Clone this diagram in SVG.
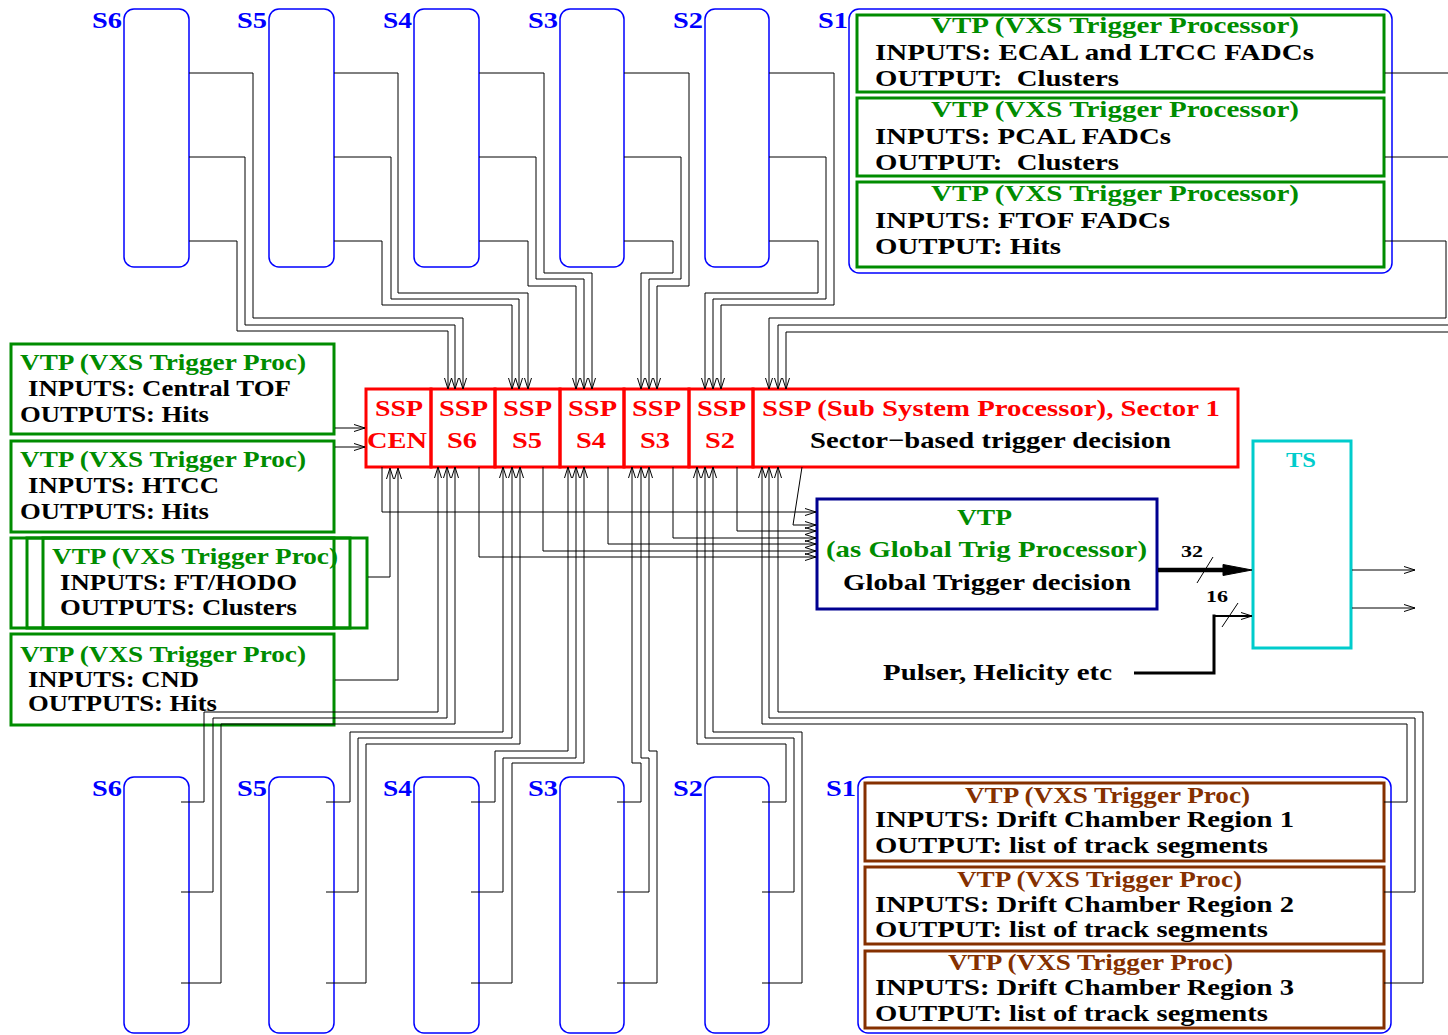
<svg xmlns="http://www.w3.org/2000/svg" width="1448" height="1035" viewBox="0 0 1448 1035">
<style>
text{font-family:"Liberation Serif","Times New Roman",serif;font-weight:bold;}
.lbl{fill:#0000ff;font-size:24px}
.g{fill:#008c00;font-size:23px}
.k{fill:#000;font-size:23px}
.r{fill:#ff0000;font-size:24px}
.br{fill:#853000;font-size:23px}
.tall{fill:none;stroke:#0000ff;stroke-width:1.5}
.gbox{fill:none;stroke:#008c00;stroke-width:3}
.bbox{fill:none;stroke:#853000;stroke-width:3}
.rbox{fill:none;stroke:#ff0000;stroke-width:3}
.c path{fill:none;stroke:#000;stroke-width:1}
.c .thick{stroke-width:4.5}
.c .mid{stroke-width:3}
.c .two{stroke-width:1.8}
.c .head{fill:#000;stroke:#000;stroke-width:1}
</style>
<defs>
<marker id="a" markerWidth="12" markerHeight="8" refX="11" refY="4" orient="auto" markerUnits="userSpaceOnUse">
<path d="M0,0.5 L11,4 L0,7.5" fill="none" stroke="#000" stroke-width="1"/>
</marker>
</defs>

<!-- top tall boxes -->
<g id="top-S6"><rect class="tall" x="124" y="9" width="65" height="258" rx="10"/><text class="lbl" x="92" y="28" textLength="30" lengthAdjust="spacingAndGlyphs">S6</text></g>
<g id="top-S5"><rect class="tall" x="269" y="9" width="65" height="258" rx="10"/><text class="lbl" x="237" y="28" textLength="30" lengthAdjust="spacingAndGlyphs">S5</text></g>
<g id="top-S4"><rect class="tall" x="414" y="9" width="65" height="258" rx="10"/><text class="lbl" x="383" y="28" textLength="29" lengthAdjust="spacingAndGlyphs">S4</text></g>
<g id="top-S3"><rect class="tall" x="560" y="9" width="64" height="258" rx="10"/><text class="lbl" x="528" y="28" textLength="30" lengthAdjust="spacingAndGlyphs">S3</text></g>
<g id="top-S2"><rect class="tall" x="705" y="9" width="64" height="258" rx="10"/><text class="lbl" x="673" y="28" textLength="30" lengthAdjust="spacingAndGlyphs">S2</text></g>
<g id="top-S1">
<rect class="tall" x="849" y="9" width="543" height="264" rx="10"/>
<text class="lbl" x="818" y="28" textLength="30" lengthAdjust="spacingAndGlyphs">S1</text>
<rect class="gbox" x="857" y="15" width="527" height="77"/>
<text class="g" x="931" y="33" textLength="368" lengthAdjust="spacingAndGlyphs">VTP (VXS Trigger Processor)</text>
<text class="k" x="875" y="60" textLength="439" lengthAdjust="spacingAndGlyphs">INPUTS: ECAL and LTCC FADCs</text>
<text class="k" x="875" y="86" textLength="244" lengthAdjust="spacingAndGlyphs" xml:space="preserve">OUTPUT:  Clusters</text>
<rect class="gbox" x="857" y="98" width="527" height="78"/>
<text class="g" x="931" y="117" textLength="368" lengthAdjust="spacingAndGlyphs">VTP (VXS Trigger Processor)</text>
<text class="k" x="875" y="144" textLength="296" lengthAdjust="spacingAndGlyphs">INPUTS: PCAL FADCs</text>
<text class="k" x="875" y="170" textLength="244" lengthAdjust="spacingAndGlyphs" xml:space="preserve">OUTPUT:  Clusters</text>
<rect class="gbox" x="857" y="182" width="527" height="85"/>
<text class="g" x="931" y="201" textLength="368" lengthAdjust="spacingAndGlyphs">VTP (VXS Trigger Processor)</text>
<text class="k" x="875" y="228" textLength="295" lengthAdjust="spacingAndGlyphs">INPUTS: FTOF FADCs</text>
<text class="k" x="875" y="254" textLength="186" lengthAdjust="spacingAndGlyphs">OUTPUT: Hits</text>
</g>

<!-- SSP row -->
<g id="ssp-cen"><rect class="rbox" x="366" y="389" width="65" height="78"/><text class="r" x="375" y="416" textLength="48" lengthAdjust="spacingAndGlyphs">SSP</text><text class="r" x="367" y="448" textLength="60" lengthAdjust="spacingAndGlyphs">CEN</text></g>
<g id="ssp-s6"><rect class="rbox" x="431" y="389" width="64" height="78"/><text class="r" x="439" y="416" textLength="49" lengthAdjust="spacingAndGlyphs">SSP</text><text class="r" x="447" y="448" textLength="30" lengthAdjust="spacingAndGlyphs">S6</text></g>
<g id="ssp-s5"><rect class="rbox" x="495" y="389" width="65" height="78"/><text class="r" x="503" y="416" textLength="49" lengthAdjust="spacingAndGlyphs">SSP</text><text class="r" x="512" y="448" textLength="30" lengthAdjust="spacingAndGlyphs">S5</text></g>
<g id="ssp-s4"><rect class="rbox" x="560" y="389" width="64" height="78"/><text class="r" x="568" y="416" textLength="49" lengthAdjust="spacingAndGlyphs">SSP</text><text class="r" x="576" y="448" textLength="30" lengthAdjust="spacingAndGlyphs">S4</text></g>
<g id="ssp-s3"><rect class="rbox" x="624" y="389" width="65" height="78"/><text class="r" x="632" y="416" textLength="49" lengthAdjust="spacingAndGlyphs">SSP</text><text class="r" x="640" y="448" textLength="30" lengthAdjust="spacingAndGlyphs">S3</text></g>
<g id="ssp-s2"><rect class="rbox" x="689" y="389" width="64" height="78"/><text class="r" x="697" y="416" textLength="49" lengthAdjust="spacingAndGlyphs">SSP</text><text class="r" x="705" y="448" textLength="30" lengthAdjust="spacingAndGlyphs">S2</text></g>
<g id="ssp-s1"><rect class="rbox" x="753" y="389" width="485" height="78"/><text class="r" x="762" y="416" textLength="458" lengthAdjust="spacingAndGlyphs">SSP (Sub System Processor), Sector 1</text><text class="k" x="810" y="448" font-size="24" textLength="361" lengthAdjust="spacingAndGlyphs">Sector−based trigger decision</text></g>

<!-- left VTP boxes -->
<g id="vtp-ctof"><rect class="gbox" x="11" y="344" width="323" height="90"/>
<text class="g" x="20" y="370" textLength="286" lengthAdjust="spacingAndGlyphs">VTP (VXS Trigger Proc)</text>
<text class="k" x="28" y="396" textLength="263" lengthAdjust="spacingAndGlyphs">INPUTS: Central TOF</text>
<text class="k" x="20" y="422" textLength="189" lengthAdjust="spacingAndGlyphs">OUTPUTS: Hits</text></g>
<g id="vtp-htcc"><rect class="gbox" x="11" y="441" width="323" height="91"/>
<text class="g" x="20" y="467" textLength="286" lengthAdjust="spacingAndGlyphs">VTP (VXS Trigger Proc)</text>
<text class="k" x="28" y="493" textLength="191" lengthAdjust="spacingAndGlyphs">INPUTS: HTCC</text>
<text class="k" x="20" y="519" textLength="189" lengthAdjust="spacingAndGlyphs">OUTPUTS: Hits</text></g>
<g id="vtp-ft"><rect class="gbox" x="11" y="538" width="323" height="90"/><rect class="gbox" x="27" y="538" width="323" height="90"/><rect class="gbox" x="43" y="538" width="324" height="90"/>
<text class="g" x="52" y="564" textLength="286" lengthAdjust="spacingAndGlyphs">VTP (VXS Trigger Proc)</text>
<text class="k" x="60" y="590" textLength="237" lengthAdjust="spacingAndGlyphs">INPUTS: FT/HODO</text>
<text class="k" x="60" y="615" textLength="237" lengthAdjust="spacingAndGlyphs">OUTPUTS: Clusters</text></g>
<g id="vtp-cnd"><rect class="gbox" x="11" y="634" width="323" height="91"/>
<text class="g" x="20" y="662" textLength="286" lengthAdjust="spacingAndGlyphs">VTP (VXS Trigger Proc)</text>
<text class="k" x="28" y="687" textLength="171" lengthAdjust="spacingAndGlyphs">INPUTS: CND</text>
<text class="k" x="28" y="711" textLength="189" lengthAdjust="spacingAndGlyphs">OUTPUTS: Hits</text></g>

<!-- global VTP -->
<g id="vtp-global"><rect x="817" y="499" width="340" height="110" fill="none" stroke="#000090" stroke-width="3"/>
<text class="g" x="957" y="525" font-size="24" textLength="55" lengthAdjust="spacingAndGlyphs">VTP</text>
<text class="g" x="826" y="557" font-size="24" textLength="321" lengthAdjust="spacingAndGlyphs">(as Global Trig Processor)</text>
<text class="k" x="843" y="590" font-size="24" textLength="288" lengthAdjust="spacingAndGlyphs">Global Trigger decision</text></g>

<!-- TS -->
<g id="ts"><rect x="1253" y="441" width="98" height="207" fill="none" stroke="#00cccc" stroke-width="3"/>
<text x="1286" y="467" font-size="20" fill="#00cccc" textLength="30" lengthAdjust="spacingAndGlyphs">TS</text></g>

<g id="pulser"><text class="k" x="883" y="680" textLength="229" lengthAdjust="spacingAndGlyphs">Pulser, Helicity etc</text></g>

<!-- bottom tall boxes -->
<g id="bot-S6"><rect class="tall" x="124" y="777" width="65" height="256" rx="10"/><text class="lbl" x="92" y="796" textLength="30" lengthAdjust="spacingAndGlyphs">S6</text></g>
<g id="bot-S5"><rect class="tall" x="269" y="777" width="65" height="256" rx="10"/><text class="lbl" x="237" y="796" textLength="30" lengthAdjust="spacingAndGlyphs">S5</text></g>
<g id="bot-S4"><rect class="tall" x="414" y="777" width="65" height="256" rx="10"/><text class="lbl" x="383" y="796" textLength="29" lengthAdjust="spacingAndGlyphs">S4</text></g>
<g id="bot-S3"><rect class="tall" x="560" y="777" width="64" height="256" rx="10"/><text class="lbl" x="528" y="796" textLength="30" lengthAdjust="spacingAndGlyphs">S3</text></g>
<g id="bot-S2"><rect class="tall" x="705" y="777" width="64" height="256" rx="10"/><text class="lbl" x="673" y="796" textLength="30" lengthAdjust="spacingAndGlyphs">S2</text></g>
<g id="bot-S1">
<rect class="tall" x="858" y="777" width="533" height="256" rx="10"/>
<text class="lbl" x="826" y="796" textLength="30" lengthAdjust="spacingAndGlyphs">S1</text>
<rect class="bbox" x="865" y="783" width="519" height="78"/>
<text class="br" x="965" y="803" textLength="285" lengthAdjust="spacingAndGlyphs">VTP (VXS Trigger Proc)</text>
<text class="k" x="875" y="827" textLength="419" lengthAdjust="spacingAndGlyphs">INPUTS: Drift Chamber Region 1</text>
<text class="k" x="875" y="853" textLength="393" lengthAdjust="spacingAndGlyphs">OUTPUT: list of track segments</text>
<rect class="bbox" x="865" y="867" width="519" height="77"/>
<text class="br" x="957" y="887" textLength="285" lengthAdjust="spacingAndGlyphs">VTP (VXS Trigger Proc)</text>
<text class="k" x="875" y="912" textLength="419" lengthAdjust="spacingAndGlyphs">INPUTS: Drift Chamber Region 2</text>
<text class="k" x="875" y="937" textLength="393" lengthAdjust="spacingAndGlyphs">OUTPUT: list of track segments</text>
<rect class="bbox" x="865" y="951" width="519" height="77"/>
<text class="br" x="948" y="970" textLength="285" lengthAdjust="spacingAndGlyphs">VTP (VXS Trigger Proc)</text>
<text class="k" x="875" y="995" textLength="419" lengthAdjust="spacingAndGlyphs">INPUTS: Drift Chamber Region 3</text>
<text class="k" x="875" y="1021" textLength="393" lengthAdjust="spacingAndGlyphs">OUTPUT: list of track segments</text>
</g>

<!-- connectors -->
<g id="connectors" class="c">
<path marker-end="url(#a)" d="M189,73 H253 V318 H463 V389"/>
<path marker-end="url(#a)" d="M189,157 H245 V325 H455 V389"/>
<path marker-end="url(#a)" d="M189,241 H237 V331 H448 V389"/>
<path marker-end="url(#a)" d="M334,73 H398 V293 H528 V389"/>
<path marker-end="url(#a)" d="M334,157 H391 V299 H519 V389"/>
<path marker-end="url(#a)" d="M334,241 H382 V305 H512 V389"/>
<path marker-end="url(#a)" d="M479,73 H544 V273 H592 V389"/>
<path marker-end="url(#a)" d="M479,157 H536 V279 H584 V389"/>
<path marker-end="url(#a)" d="M479,241 H528 V286 H576 V389"/>
<path marker-end="url(#a)" d="M624,73 H689 V286 H657 V389"/>
<path marker-end="url(#a)" d="M624,157 H681 V279 H649 V389"/>
<path marker-end="url(#a)" d="M624,241 H673 V273 H641 V389"/>
<path marker-end="url(#a)" d="M769,73 H834 V305 H721 V389"/>
<path marker-end="url(#a)" d="M769,157 H826 V299 H713 V389"/>
<path marker-end="url(#a)" d="M769,241 H818 V293 H705 V389"/>
<path d="M1385,73 H1448"/>
<path d="M1385,157 H1448"/>
<path marker-end="url(#a)" d="M1385,241 H1446 V318 H769 V389"/>
<path marker-end="url(#a)" d="M1448,325 H778 V389"/>
<path marker-end="url(#a)" d="M1448,332 H786 V389"/>

<path marker-end="url(#a)" d="M181,802 H204 V712 H438 V467"/>
<path marker-end="url(#a)" d="M181,892 H213 V718 H447 V467"/>
<path marker-end="url(#a)" d="M181,983 H221 V724 H455 V467"/>
<path marker-end="url(#a)" d="M326,802 H350 V732 H503 V467"/>
<path marker-end="url(#a)" d="M326,892 H358 V738 H512 V467"/>
<path marker-end="url(#a)" d="M326,983 H366 V744 H520 V467"/>
<path marker-end="url(#a)" d="M471,802 H495 V751 H568 V467"/>
<path marker-end="url(#a)" d="M471,892 H503 V758 H576 V467"/>
<path marker-end="url(#a)" d="M471,983 H512 V763 H584 V467"/>
<path marker-end="url(#a)" d="M617,802 H641 V763 H632 V467"/>
<path marker-end="url(#a)" d="M617,892 H649 V758 H641 V467"/>
<path marker-end="url(#a)" d="M617,983 H657 V751 H649 V467"/>
<path marker-end="url(#a)" d="M762,802 H786 V744 H697 V467"/>
<path marker-end="url(#a)" d="M762,892 H794 V738 H705 V467"/>
<path marker-end="url(#a)" d="M762,983 H802 V732 H713 V467"/>
<path marker-end="url(#a)" d="M1384,802 H1407 V724 H762 V467"/>
<path marker-end="url(#a)" d="M1384,892 H1415 V718 H769 V467"/>
<path marker-end="url(#a)" d="M1384,983 H1423 V712 H778 V467"/>

<path marker-end="url(#a)" d="M382,467 V512 H816"/>
<path marker-end="url(#a)" d="M802,467 L793,525 H816"/>
<path marker-end="url(#a)" d="M737,467 V531 H816"/>
<path marker-end="url(#a)" d="M673,467 V538 H816"/>
<path marker-end="url(#a)" d="M608,467 V544 H816"/>
<path marker-end="url(#a)" d="M543,467 V551 H816"/>
<path marker-end="url(#a)" d="M479,467 V557 H816"/>

<path marker-end="url(#a)" d="M335,428 H365"/>
<path marker-end="url(#a)" d="M335,447 H365"/>
<path marker-end="url(#a)" d="M368,577 H390 V468"/>
<path marker-end="url(#a)" d="M335,680 H398 V468"/>

<path class="thick" d="M1158,570 H1226"/>
<path class="head" d="M1223,564.5 L1252,570 L1223,575.5 Z"/>
<path d="M1197,583 L1213,557"/>
<path class="mid" d="M1134,673 H1214 V614.5"/>
<path class="two" marker-end="url(#a)" d="M1213,616 H1252"/>
<path d="M1222,627 L1238,603"/>
<path marker-end="url(#a)" d="M1352,570 H1415"/>
<path marker-end="url(#a)" d="M1352,608 H1415"/>
</g>
<text x="1181" y="557" font-size="16" fill="#000" textLength="22" lengthAdjust="spacingAndGlyphs">32</text>
<text x="1206" y="602" font-size="16" fill="#000" textLength="22" lengthAdjust="spacingAndGlyphs">16</text>
</svg>
